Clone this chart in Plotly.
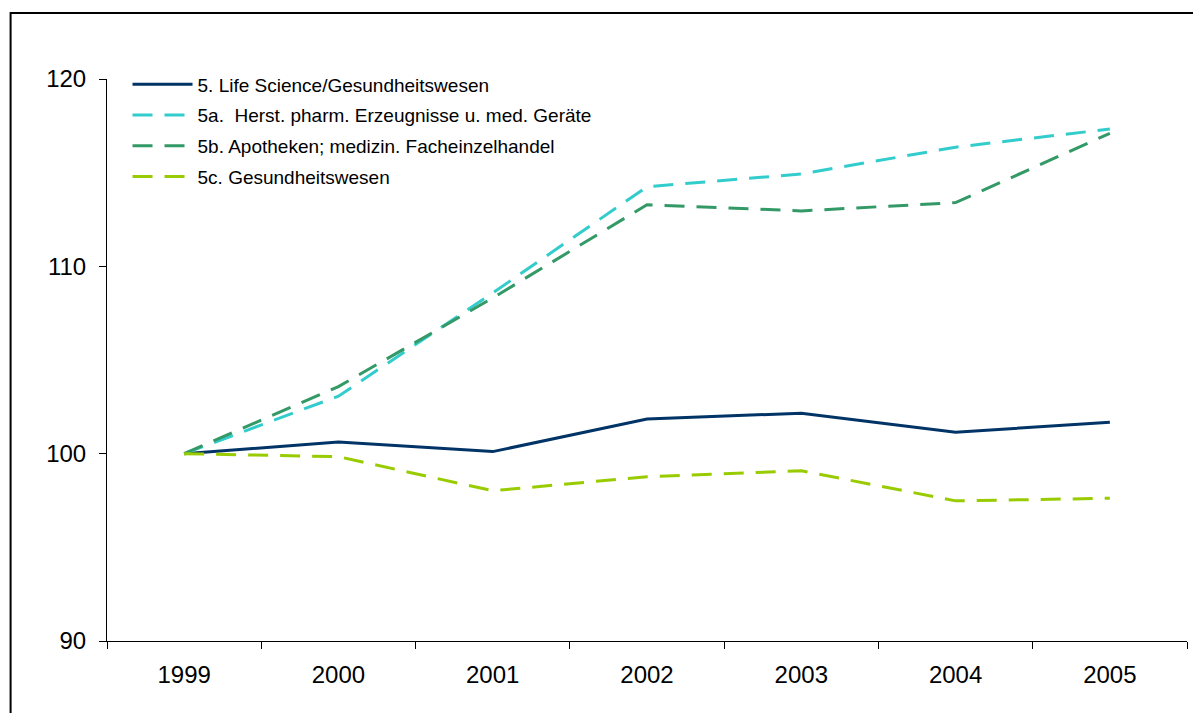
import plotly.graph_objects as go

# Index values (1999 = 100)
years = ["1999", "2000", "2001", "2002", "2003", "2004", "2005"]

life_science = [100.0, 100.62, 100.11, 101.85, 102.16, 101.14, 101.68]
pharma_med = [100.0, 103.07, 108.58, 114.25, 114.93, 116.36, 117.33]
apotheken = [100.0, 103.58, 108.31, 113.29, 112.96, 113.40, 117.10]
gesundheit = [100.0, 99.84, 98.02, 98.77, 99.09, 97.48, 97.62]

series = [
    ("5. Life Science/Gesundheitswesen", life_science, "#003366", "solid"),
    ("5a.  Herst. pharm. Erzeugnisse u. med. Geräte", pharma_med, "#33CCCC", "20px,12px"),
    ("5b. Apotheken; medizin. Facheinzelhandel", apotheken, "#339966", "20px,12px"),
    ("5c. Gesundheitswesen", gesundheit, "#99CC00", "20px,12px"),
]

FONT = "Liberation Sans, Arial, sans-serif"

fig = go.Figure()
for i, (name, vals, color, dash) in enumerate(series):
    fig.add_trace(go.Scatter(
        x=years, y=vals, name=name, mode="lines",
        line=dict(color=color, width=3, dash=dash),
        legendgroup=f"g{i}",
    ))

fig.update_layout(
    width=1193, height=713,
    margin=dict(l=106.5, r=5.5, t=79, b=72),
    paper_bgcolor="white", plot_bgcolor="white",
    font=dict(family=FONT, color="black"),
    showlegend=True,
    legend=dict(
        x=0.019, y=1.024, xanchor="left", yanchor="top",
        bgcolor="rgba(0,0,0,0)", font=dict(size=19, family=FONT, color="black"),
        itemwidth=60, tracegroupgap=3, traceorder="grouped",
    ),
    xaxis=dict(
        type="category", range=[-0.5, 6.5], tickson="boundaries",
        showline=True, linecolor="black", linewidth=1,
        ticks="outside", ticklen=7, tickcolor="black", tickwidth=1,
        ticklabelstandoff=12,
        showgrid=False, zeroline=False,
        tickfont=dict(size=24, family=FONT, color="black"),
    ),
    yaxis=dict(
        range=[90, 120], tickvals=[90, 100, 110, 120],
        showline=True, linecolor="black", linewidth=1,
        ticks="outside", ticklen=7, tickcolor="black", tickwidth=1,
        ticklabelstandoff=8,
        showgrid=False, zeroline=False,
        tickfont=dict(size=24, family=FONT, color="black"),
    ),
    shapes=[dict(
        type="rect", xref="paper", yref="paper",
        x0=(10 - 106.5) / 1081, x1=1.2,
        y0=-0.3, y1=1 + (79 - 13) / 562,
        line=dict(color="black", width=2), fillcolor="rgba(0,0,0,0)",
        layer="below",
    )],
)

fig.write_html("out.html")
